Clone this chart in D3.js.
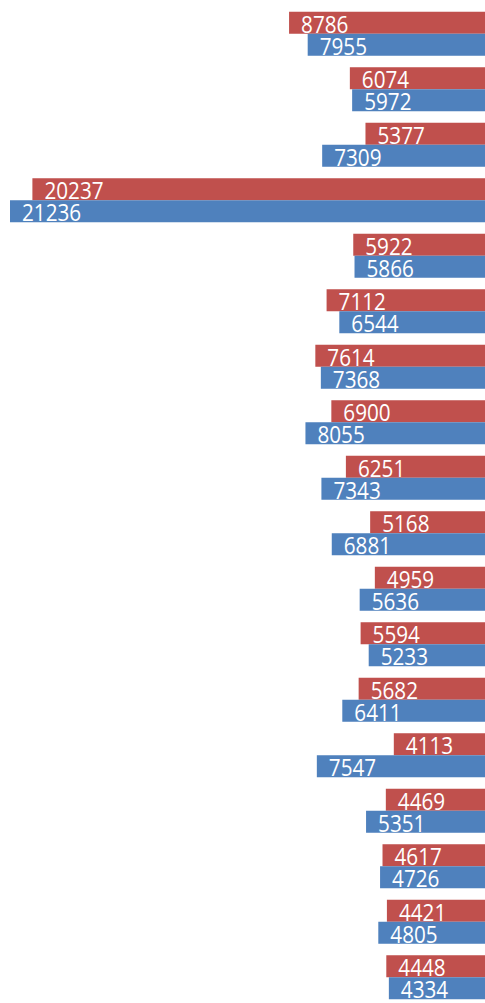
<!DOCTYPE html>
<html lang="en">
<head>
    <meta charset="utf-8" />
    <title>Paired bars</title>
    <script src="https://cdn.jsdelivr.net/npm/d3@7"></script>
    <style type="text/css">
        html, body { margin: 0; padding: 0; background: #fff; overflow: hidden; }
        .label { fill: #fff; font-family: "Open Sans", "Noto Sans", sans-serif; font-size: 23px; }
    </style>
</head>
<body>
    <svg id="canvas" width="485" height="1003" xmlns="http://www.w3.org/2000/svg"></svg>
    <script type="text/javascript">
        var categories = ["1", "2", "3", "4", "5", "6", "7", "8", "9",
                          "10", "11", "12", "13", "14", "15", "16", "17", "18"];
        var series = ["red", "blue"];
        var redValues = [8786, 6074, 5377, 20237, 5922, 7112, 7614, 6900, 6251,
                         5168, 4959, 5594, 5682, 4113, 4469, 4617, 4421, 4448];
        var blueValues = [7955, 5972, 7309, 21236, 5866, 6544, 7368, 8055, 7343,
                          6881, 5636, 5233, 6411, 7547, 5351, 4726, 4805, 4334];

        var colors = { red: "#c0504d", blue: "#4f81bd" };

        var svg = d3.select("#canvas");

        // bars grow leftwards from the right edge
        var x = d3.scaleLinear()
            .domain([0, d3.max(redValues.concat(blueValues))])
            .range([486, 10]);

        var y = d3.scaleBand()
            .domain(categories)
            .range([6, 6 + categories.length * 55.5])
            .paddingInner(0.207)
            .paddingOuter(0.1035);

        var inner = d3.scaleBand()
            .domain(series)
            .range([0, y.bandwidth()]);

        var rows = categories.map(function (c, i) {
            return { cat: c, values: [
                { s: "red", v: redValues[i] },
                { s: "blue", v: blueValues[i] }
            ] };
        });

        var groups = svg.selectAll("g.group")
                .data(rows)
            .enter().append("g")
                .attr("class", "group")
                .attr("transform", function (d) { return "translate(0," + y(d.cat) + ")"; });

        var cells = groups.selectAll("g.cell")
                .data(function (d) { return d.values; })
            .enter().append("g")
                .attr("class", "cell");

        cells.append("rect")
            .attr("x", function (d) { return x(d.v); })
            .attr("y", function (d) { return inner(d.s); })
            .attr("width", function (d) { return x(0) - x(d.v); })
            .attr("height", inner.bandwidth())
            .attr("fill", function (d) { return colors[d.s]; });

        // value label near the outer (left) end of each bar
        cells.append("text")
            .attr("class", "label")
            .attr("transform", function (d) {
                return "translate(" + (x(d.v) + 12) + "," + (inner(d.s) + inner.bandwidth() - 1) + ") scale(0.9,1)";
            })
            .text(function (d) { return d.v; });
    </script>
</body>
</html>
